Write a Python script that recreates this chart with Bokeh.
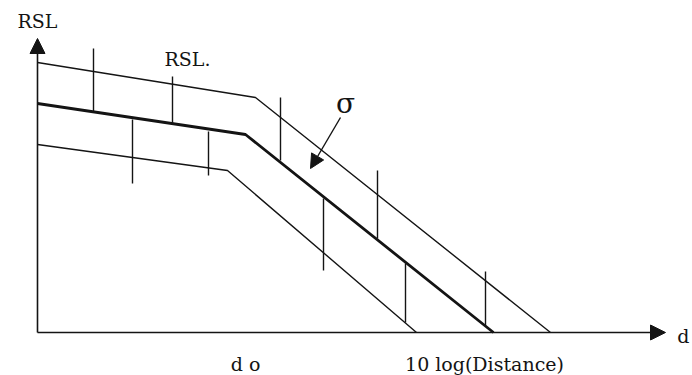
from bokeh.plotting import figure
from bokeh.models import Range1d, Arrow, NormalHead, ColumnDataSource
from bokeh.core.properties import value
from bokeh.embed import file_html
from bokeh.resources import INLINE

# Schematic values (x: 10 log distance units, y: RSL units), origin at axis corner
top_x = [0, 218, 513]
top_y = [270, 235, 0]
mid_x = [0, 208, 456]
mid_y = [229, 198, 0]
low_x = [0, 190, 379]
low_y = [188, 162, 0]

upper_bar_x = [56, 135, 243, 340, 448]
upper_bar_lo = [221, 209, 172, 94, 7]
upper_bar_hi = [284, 256, 235, 162, 61]

lower_bar_x = [95, 171, 286, 368]
lower_bar_lo = [149, 157, 62, 10]
lower_bar_hi = [213, 201, 134, 69]

x_axis_end = 628
y_axis_end = 294

labels_text = ["RSL", "RSL.", "d o", "10 log(Distance)"]
labels_x = [0, 150, 208, 447]
labels_y = [312, 274, -31, -31]

sigma_from = (303, 215)
sigma_to = (273, 164)

INK = "#141414"
FONT = "DejaVu Serif"

p = figure(width=692, height=375, output_backend="svg", toolbar_location=None,
           x_range=Range1d(-37, 655), y_range=Range1d(-43, 332),
           min_border=0, x_axis_type=None, y_axis_type=None)
p.grid.visible = False
p.outline_line_color = None
p.background_fill_color = "white"
p.border_fill_color = "white"

# axes with arrowheads
p.add_layout(Arrow(end=NormalHead(size=15, fill_color=INK, line_color=INK),
                   x_start=0, y_start=0, x_end=0, y_end=y_axis_end,
                   line_color=INK, line_width=1.6))
p.add_layout(Arrow(end=NormalHead(size=15, fill_color=INK, line_color=INK),
                   x_start=0, y_start=0, x_end=x_axis_end, y_end=0,
                   line_color=INK, line_width=1.6))

p.line(top_x, top_y, line_color=INK, line_width=1.4)
p.line(mid_x, mid_y, line_color=INK, line_width=2.8)
p.line(low_x, low_y, line_color=INK, line_width=1.4)

p.segment(x0=upper_bar_x, y0=upper_bar_lo, x1=upper_bar_x, y1=upper_bar_hi,
          line_color=INK, line_width=1.4)
p.segment(x0=lower_bar_x, y0=lower_bar_lo, x1=lower_bar_x, y1=lower_bar_hi,
          line_color=INK, line_width=1.4)

p.add_layout(Arrow(end=NormalHead(size=14, fill_color=INK, line_color=INK),
                   x_start=sigma_from[0], y_start=sigma_from[1],
                   x_end=sigma_to[0], y_end=sigma_to[1],
                   line_color=INK, line_width=1.4))

src = ColumnDataSource(dict(x=labels_x, y=labels_y, t=labels_text))
p.text(x="x", y="y", text="t", source=src, text_font=value(FONT),
       text_font_size="19px", text_align="center", text_baseline="middle",
       text_color=INK)
p.text(x=[308], y=[229], text=["σ"], text_font=value(FONT), text_font_size="28px",
       text_align="center", text_baseline="middle", text_color=INK)
p.text(x=[652], y=[-3], text=["d"], text_font=value(FONT), text_font_size="19px",
       text_align="right", text_baseline="middle", text_color=INK)

open("out.html", "w").write(file_html(p, INLINE))
